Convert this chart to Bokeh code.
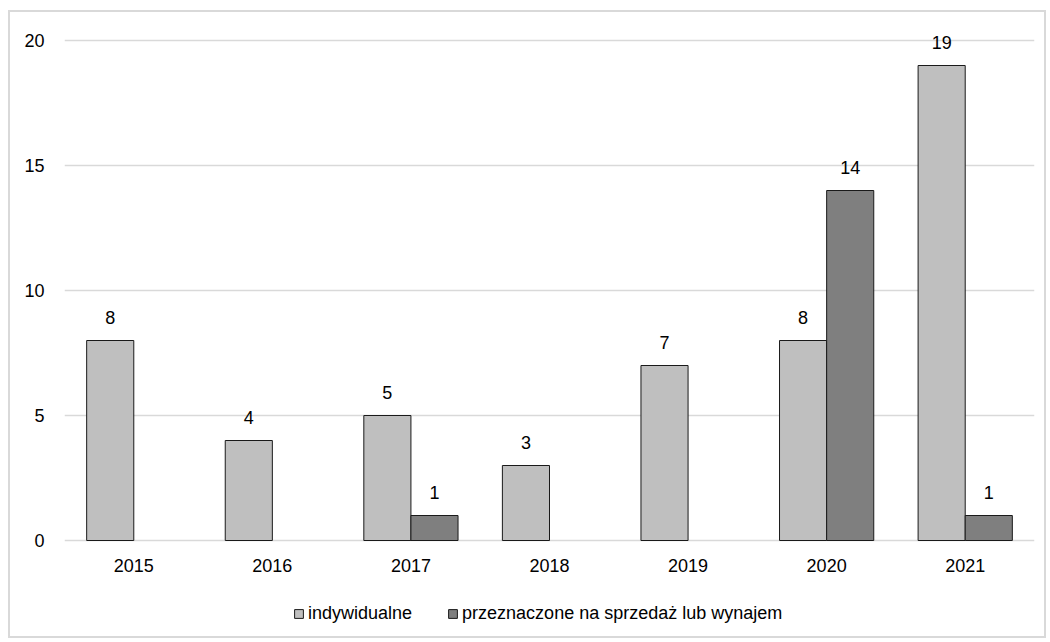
from bokeh.plotting import figure
from bokeh.models import (ColumnDataSource, FactorRange, Range1d, LabelSet,
                          Legend, LegendItem, FixedTicker)
from bokeh.core.properties import value
from bokeh.transform import dodge
from bokeh.embed import file_html
from bokeh.resources import INLINE

# ---- data ----
years = ["2015", "2016", "2017", "2018", "2019", "2020", "2021"]
indywidualne = [8, 4, 5, 3, 7, 8, 19]
sprzedaz = [None, None, 1, None, None, 14, 1]
series_names = ["indywidualne", "przeznaczone na sprzedaż lub wynajem"]
y_ticks = [0, 5, 10, 15, 20]

FONT = "Liberation Sans"
FS = "18px"
LIGHT = "#BFBFBF"
DARK = "#7F7F7F"
EDGE = "#1A1A1A"
GRID = "#D9D9D9"

src = ColumnDataSource(dict(
    year=years,
    a=indywidualne,
    b=[float("nan") if v is None else v for v in sprzedaz],
))
lab_a = ColumnDataSource(dict(
    year=years, v=indywidualne, t=[str(v) for v in indywidualne]))
b_years = [y for y, v in zip(years, sprzedaz) if v is not None]
b_vals = [v for v in sprzedaz if v is not None]
lab_b = ColumnDataSource(dict(year=b_years, v=b_vals, t=[str(v) for v in b_vals]))
lab_x = ColumnDataSource(dict(year=years, v=[0] * len(years), t=years))

# frame extends below zero so that category labels and legend sit inside it
p = figure(x_range=FactorRange(factors=years), y_range=Range1d(-3.52, 20.6),
           width=1038, height=628, output_backend="svg", toolbar_location=None,
           min_border_left=54, min_border_right=14, min_border_top=13,
           min_border_bottom=12)
p.styles = {"border": "2px solid #D9D9D9", "margin-left": "8px",
            "margin-top": "10px", "box-sizing": "border-box"}
p.outline_line_color = None

ra = p.vbar(x=dodge("year", -0.17, range=p.x_range), top="a", width=0.34,
            source=src, fill_color=LIGHT, line_color=EDGE, line_width=1)
rb = p.vbar(x=dodge("year", 0.17, range=p.x_range), top="b", width=0.34,
            source=src, fill_color=DARK, line_color=EDGE, line_width=1)

for s, off in ((lab_a, -0.17), (lab_b, 0.17)):
    ls = LabelSet(x=dodge("year", off, range=p.x_range), y="v", text="t",
                  source=s, text_align="center", text_baseline="alphabetic",
                  y_offset=17, text_font=value(FONT), text_font_size=value(FS),
                  text_color="#000000")
    p.add_layout(ls)

# category labels under the bars
p.add_layout(LabelSet(x="year", y="v", text="t", source=lab_x,
                      text_align="center", text_baseline="middle",
                      y_offset=-25, text_font=value(FONT),
                      text_font_size=value(FS), text_color="#000000"))

# axes
p.xaxis.visible = False

p.yaxis.ticker = FixedTicker(ticks=y_ticks)
p.yaxis.axis_line_color = None
p.yaxis.major_tick_line_color = None
p.yaxis.minor_tick_line_color = None
p.yaxis.major_label_text_font = FONT
p.yaxis.major_label_text_font_size = FS
p.yaxis.major_label_text_color = "#000000"
p.yaxis.major_label_standoff = 14

p.xgrid.grid_line_color = None
p.ygrid.grid_line_color = GRID
p.ygrid.grid_line_width = 1.5

legend = Legend(items=[LegendItem(label=series_names[0], renderers=[ra]),
                       LegendItem(label=series_names[1], renderers=[rb])],
                orientation="horizontal", location=(229, 4),
                label_text_font=FONT, label_text_font_size=FS,
                label_text_color="#000000",
                glyph_width=11, glyph_height=11, label_standoff=4,
                spacing=35, padding=0, margin=0,
                border_line_color=None, background_fill_alpha=0)
p.add_layout(legend, "center")

open("out.html", "w").write(file_html(p, INLINE))
